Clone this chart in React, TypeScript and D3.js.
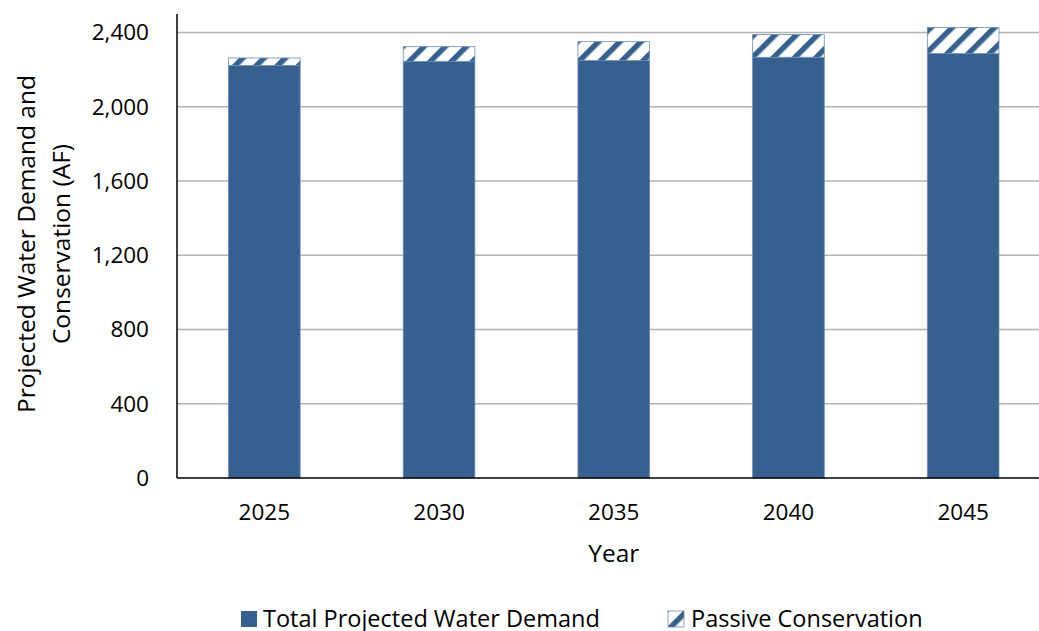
import React from "react";
import * as d3 from "d3";

// Projected water demand with passive conservation stacked on top (acre-feet)
const years = ["2025", "2030", "2035", "2040", "2045"];
const demand = [2223, 2245, 2249, 2267, 2287];
const passiveConservation = [40, 79, 102, 122, 140];
const yTicks = [0, 400, 800, 1200, 1600, 2000, 2400];
const seriesNames = ["Total Projected Water Demand", "Passive Conservation"];

const W = 1039;
const H = 631;
const margin = { left: 177, top: 14, bottom: 478 };
const plotRight = 1050.5;
const FONT = "'Open Sans', 'Noto Sans', sans-serif";
const BLUE = "#36608f";
const EDGE = "#6a8cb5";

export default function App() {
  const x = d3
    .scaleBand<string>()
    .domain(years)
    .range([margin.left, plotRight])
    .paddingInner(0.59)
    .paddingOuter(0.295);
  const y = d3.scaleLinear().domain([0, 2500]).range([margin.bottom, margin.top]);
  const fmt = d3.format(",");

  const stacked = years.map((yr, i) => ({
    yr,
    d: demand[i],
    c: passiveConservation[i],
  }));

  return (
    <svg
      width={W}
      height={H}
      style={{ position: "absolute", left: 0, top: 0, background: "#fff" }}
      fontFamily={FONT}
    >
      <defs>
        <pattern
          id="hatch"
          patternUnits="userSpaceOnUse"
          width={15}
          height={15}
          patternTransform="rotate(45)"
        >
          <rect width={15} height={15} fill="#fff" />
          <rect x={0} y={0} width={5.5} height={15} fill={BLUE} />
        </pattern>
      </defs>

      {/* gridlines */}
      {yTicks
        .filter((t) => t > 0)
        .map((t) => (
          <line
            key={t}
            x1={margin.left}
            x2={plotRight}
            y1={y(t)}
            y2={y(t)}
            stroke="#b3b3b3"
            strokeWidth={1.5}
          />
        ))}

      {/* bars */}
      {stacked.map((s) => {
        const bx = x(s.yr)!;
        const bw = x.bandwidth();
        return (
          <g key={s.yr}>
            <rect
              x={bx}
              y={y(s.d)}
              width={bw}
              height={y(0) - y(s.d)}
              fill={BLUE}
              stroke={EDGE}
              strokeWidth={0.8}
            />
            <rect
              x={bx}
              y={y(s.d + s.c)}
              width={bw}
              height={y(s.d) - y(s.d + s.c)}
              fill="url(#hatch)"
              stroke={EDGE}
              strokeWidth={0.8}
            />
          </g>
        );
      })}

      {/* axes */}
      <line x1={margin.left} x2={margin.left} y1={margin.top} y2={y(0)} stroke="#000" strokeWidth={1.5} />
      <line x1={margin.left} x2={plotRight} y1={y(0)} y2={y(0)} stroke="#000" strokeWidth={1.5} />

      {/* y tick labels */}
      {yTicks.map((t) => (
        <text
          key={t}
          x={149}
          y={y(t)}
          dy="0.35em"
          textAnchor="end"
          fontSize={22.5}
          fill="#000"
        >
          {fmt(t)}
        </text>
      ))}

      {/* x tick labels */}
      {years.map((yr) => (
        <text
          key={yr}
          x={x(yr)! + x.bandwidth() / 2}
          y={520}
          textAnchor="middle"
          fontSize={22.5}
          fill="#000"
        >
          {yr}
        </text>
      ))}

      {/* axis titles */}
      <text x={(margin.left + plotRight) / 2} y={562} textAnchor="middle" fontSize={24.5} fill="#000">
        Year
      </text>
      <g transform="translate(35,244) rotate(-90)">
        <text x={0} y={0} textAnchor="middle" fontSize={24.5} fill="#000">
          Projected Water Demand and
        </text>
        <text x={0} y={35} textAnchor="middle" fontSize={24.5} fill="#000">
          Conservation (AF)
        </text>
      </g>

      {/* legend */}
      <g>
        <rect x={241} y={611} width={16} height={16} fill={BLUE} />
        <text x={263} y={627} fontSize={23.5} fill="#000">
          {seriesNames[0]}
        </text>
        <rect x={668} y={611} width={16} height={16} fill="url(#hatch)" stroke={EDGE} strokeWidth={0.8} />
        <text x={691} y={627} fontSize={23.5} fill="#000">
          {seriesNames[1]}
        </text>
      </g>
    </svg>
  );
}
